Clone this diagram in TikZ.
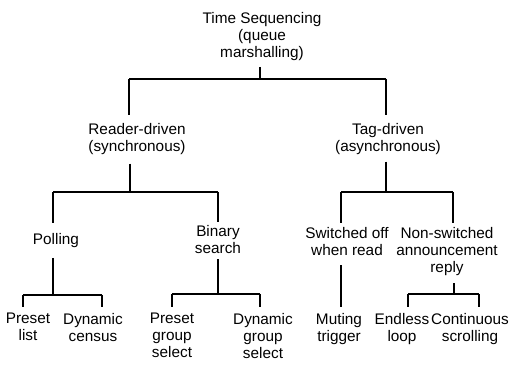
\documentclass[tikz,border=0pt]{standalone}
\usepackage{fontspec}
\setmainfont{Liberation Sans}
\begin{document}
\begin{tikzpicture}[x=0.75pt,y=-0.75pt,
  lbl/.style={anchor=north,inner sep=0pt,outer sep=0pt,align=center,
              font=\fontsize{11.5pt}{12.75pt}\selectfont},
  conn/.style={draw=black,line width=1pt}]
\useasboundingbox (0,0) rectangle (517,366);
% nodes (north = cap top)
\node[lbl] (root) at (262,12) {Time Sequencing\\(queue\\marshalling)};
\node[lbl] (rd) at (137,123) {Reader-driven\\(synchronous)};
\node[lbl] (td) at (388,123) {Tag-driven\\(asynchronous)};
\node[lbl] (poll) at (56,233) {Polling};
\node[lbl] (bin) at (218,225) {Binary\\search};
\node[lbl] (sw) at (347,227) {Switched off\\when read};
\node[lbl] (ns) at (447,227) {Non-switched\\announcement\\reply};
\node[lbl] (pl) at (28,313) {Preset\\list};
\node[lbl] (dc) at (93,313) {Dynamic\\census};
\node[lbl] (pg) at (172,313) {Preset\\group\\select};
\node[lbl] (dg) at (263,313) {Dynamic\\group\\select};
\node[lbl] (mt) at (339,313) {Muting\\trigger};
\node[lbl] (el) at (402,313) {Endless\\loop};
\node[lbl] (cs) at (470,313) {Continuous\\scrolling};
% junctions and bar ends
\coordinate (j0) at (260,79);
\coordinate (j0l) at (129,79);  \coordinate (j0r) at (386,79);
\coordinate (j1) at (130,192);
\coordinate (j1l) at (53,192);  \coordinate (j1r) at (218,192);
\coordinate (j2) at (386,192);
\coordinate (j2l) at (341,192); \coordinate (j2r) at (453,192);
\coordinate (j3) at (53,295);
\coordinate (j3l) at (23,295);  \coordinate (j3r) at (102,295);
\coordinate (j4) at (218,294);
\coordinate (j4l) at (172,294); \coordinate (j4r) at (260,294);
\coordinate (j5) at (454,294);
\coordinate (j5l) at (408,294); \coordinate (j5r) at (479,294);
\coordinate (j6) at (341,300);
% root
\draw[conn,shorten <=5pt] (j0 |- root.south) -- (j0);
\draw[conn] (j0l) -- (j0r);
\draw[conn,shorten >=6pt] (j0l) -- (j0l |- rd.north);
\draw[conn,shorten >=6pt] (j0r) -- (j0r |- td.north);
% reader-driven
\draw[conn,shorten <=7pt] (j1 |- rd.south) -- (j1);
\draw[conn] (j1l) -- (j1r);
\draw[conn,shorten >=7.5pt] (j1l) -- (j1l |- poll.north);
\draw[conn,shorten >=2pt] (j1r) -- (j1r |- bin.north);
% tag-driven
\draw[conn,shorten <=5.5pt] (j2 |- td.south) -- (j2);
\draw[conn] (j2l) -- (j2r);
\draw[conn,shorten >=3pt] (j2l) -- (j2l |- sw.north);
\draw[conn,shorten >=3pt] (j2r) -- (j2r |- ns.north);
% polling
\draw[conn,shorten <=8pt] (j3 |- poll.south) -- (j3);
\draw[conn] (j3l) -- (j3r);
\draw[conn,shorten >=4.5pt] (j3l) -- (j3l |- pl.north);
\draw[conn,shorten >=4.5pt] (j3r) -- (j3r |- dc.north);
% binary search
\draw[conn,shorten <=4.5pt] (j4 |- bin.south) -- (j4);
\draw[conn] (j4l) -- (j4r);
\draw[conn,shorten >=4.5pt] (j4l) -- (j4l |- pg.north);
\draw[conn,shorten >=4.5pt] (j4r) -- (j4r |- dg.north);
% switched off
\draw[conn,shorten <=7.5pt,shorten >=4.5pt] (j6 |- sw.south) -- (j6 |- mt.north);
% non-switched
\draw[conn,shorten <=6pt] (j5 |- ns.south) -- (j5);
\draw[conn] (j5l) -- (j5r);
\draw[conn,shorten >=4.5pt] (j5l) -- (j5l |- el.north);
\draw[conn,shorten >=4.5pt] (j5r) -- (j5r |- cs.north);
\end{tikzpicture}
\end{document}
